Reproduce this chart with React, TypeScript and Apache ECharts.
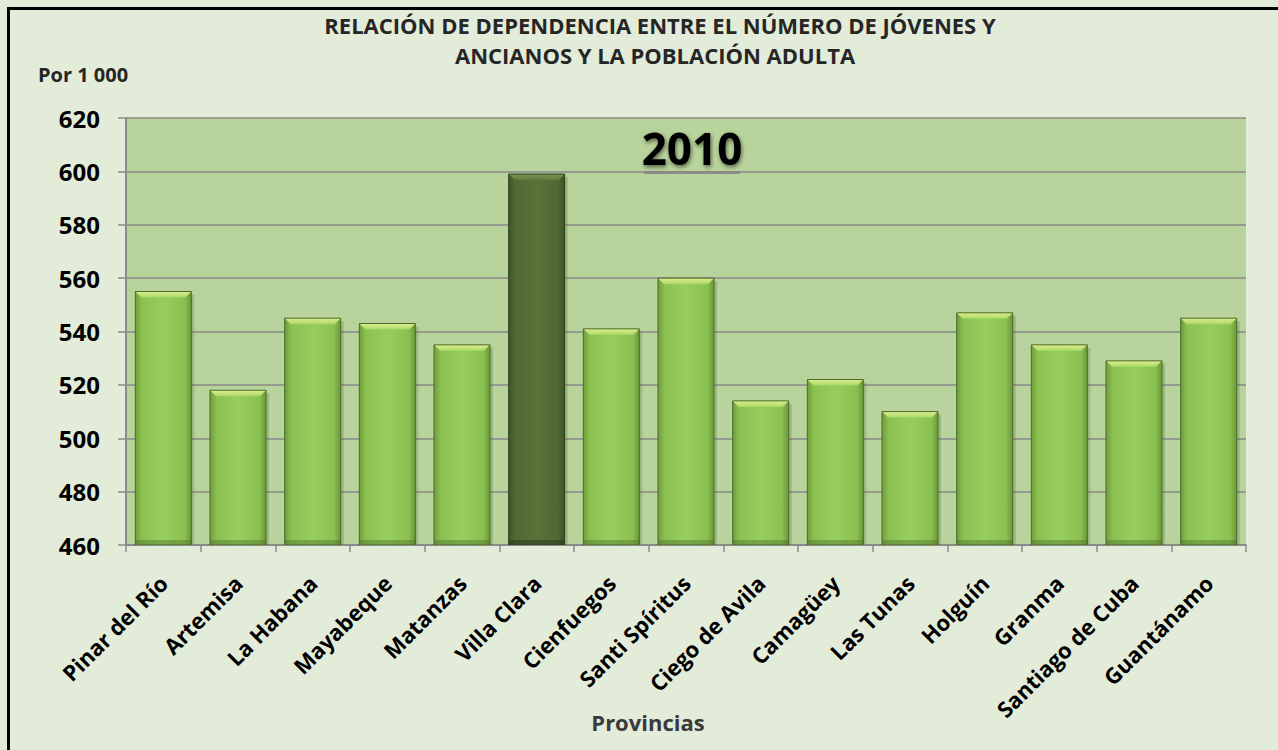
import React, { useEffect, useRef } from "react";
import * as echarts from "echarts";

const categories = [
  "Pinar del Río", "Artemisa", "La Habana", "Mayabeque", "Matanzas", "Villa Clara",
  "Cienfuegos", "Santi Spíritus", "Ciego de Avila", "Camagüey", "Las Tunas",
  "Holguín", "Granma", "Santiago de Cuba", "Guantánamo",
];
const values = [555, 518, 545, 543, 535, 599, 541, 560, 514, 522, 510, 547, 535, 529, 545];
const highlighted = "Villa Clara";
const titleLines = [
  "RELACIÓN DE DEPENDENCIA ENTRE EL NÚMERO DE JÓVENES Y",
  "ANCIANOS Y LA POBLACIÓN ADULTA",
];
const yUnit = "Por 1 000";
const xName = "Provincias";
const yearLabel = "2010";
const yMin = 460;
const yMax = 620;
const yStep = 20;

const FONT = "'Open Sans', 'Noto Sans', sans-serif";

export default function App() {
  const ref = useRef<HTMLDivElement>(null);
  useEffect(() => {
    if (!ref.current) return;
    const chart = echarts.init(ref.current, null, { renderer: "svg" });
    const G = echarts.graphic;
    const grad = (dark: boolean) =>
      new G.LinearGradient(0, 0, 1, 0, dark
        ? [
            { offset: 0, color: "#3E5426" },
            { offset: 0.12, color: "#506934" },
            { offset: 0.5, color: "#587238" },
            { offset: 0.88, color: "#506934" },
            { offset: 1, color: "#3C5124" },
          ]
        : [
            { offset: 0, color: "#6E9E3A" },
            { offset: 0.12, color: "#8BC152" },
            { offset: 0.5, color: "#97CE5E" },
            { offset: 0.88, color: "#8BC152" },
            { offset: 1, color: "#6A9837" },
          ]);
    const renderItem = (params: any, api: any) => {
      const idx = api.value(0);
      const v = api.value(1);
      const top = api.coord([idx, v]);
      const bot = api.coord([idx, yMin]);
      const bw = api.size([1, 0])[0] * 0.75;
      const x0 = top[0] - bw / 2;
      const x1 = x0 + bw;
      const y0 = top[1];
      const y1 = bot[1];
      const dark = categories[idx] === highlighted;
      const bev = 6;
      return {
        type: "group",
        children: [
          {
            type: "rect",
            shape: { x: x0 + 3, y: y0 + 3, width: bw, height: y1 - y0 - 3 },
            style: { fill: "rgba(70,95,45,0.25)" },
          },
          {
            type: "rect",
            shape: { x: x0, y: y0, width: bw, height: y1 - y0 },
            style: { fill: grad(dark) },
          },
          {
            type: "polygon",
            shape: {
              points: [
                [x0, y0], [x1, y0], [x1 - bev, y0 + bev], [x0 + bev, y0 + bev],
              ],
            },
            style: {
              fill: new G.LinearGradient(0, 0, 0, 1, dark
                ? [
                    { offset: 0, color: "#7E9456" },
                    { offset: 1, color: "#5F7A3E" },
                  ]
                : [
                    { offset: 0, color: "#E2EE8A" },
                    { offset: 1, color: "#A8D868" },
                  ]),
            },
          },
          {
            type: "rect",
            shape: { x: x0, y: y1 - 5, width: bw, height: 5 },
            style: { fill: dark ? "rgba(40,55,25,0.5)" : "rgba(80,115,45,0.45)" },
          },
          {
            type: "rect",
            shape: { x: x0, y: y0, width: bw, height: y1 - y0 },
            style: { fill: "none", stroke: dark ? "#2F401C" : "#4A6A2A", lineWidth: 1 },
          },
        ],
      };
    };
    const titleStyle = {
      fontFamily: FONT,
      fontWeight: "bold",
      fontSize: 22,
      fill: "#262626",
      align: "center",
      verticalAlign: "middle",
    };
    chart.setOption({
      animation: false,
      backgroundColor: "#E3ECD9",
      grid: {
        left: 126,
        right: 32,
        top: 118,
        bottom: 205,
        show: true,
        backgroundColor: "#B8D49C",
        borderWidth: 0,
      },
      xAxis: {
        type: "category",
        data: categories,
        boundaryGap: true,
        axisLine: { show: true, lineStyle: { color: "#8A8A8A", width: 2 } },
        axisTick: { show: true, length: 7, lineStyle: { color: "#8A8A8A", width: 1.5 } },
        axisLabel: {
          rotate: 45,
          interval: 0,
          color: "#000",
          fontFamily: FONT,
          fontWeight: "bold",
          fontSize: 22,
          margin: 34,
        },
      },
      yAxis: {
        type: "value",
        min: yMin,
        max: yMax,
        interval: yStep,
        axisLine: { show: true, lineStyle: { color: "#8A8A8A", width: 2 } },
        axisTick: { show: true, length: 8, lineStyle: { color: "#8A8A8A", width: 1.5 } },
        splitLine: { show: true, lineStyle: { color: "#8A8A8A", width: 1.5 } },
        axisLabel: {
          color: "#000",
          fontFamily: FONT,
          fontWeight: "bold",
          fontSize: 24,
          margin: 26,
        },
      },
      series: [
        {
          type: "custom",
          renderItem,
          encode: { x: 0, y: 1 },
          data: values.map((v, i) => [i, v]),
          clip: true,
        },
      ],
      graphic: [
        {
          type: "rect",
          left: 6,
          top: 6,
          shape: { width: 1300, height: 800 },
          style: { fill: "none", stroke: "#000", lineWidth: 3 },
          silent: true,
        },
        {
          type: "text",
          x: 660,
          y: 25,
          style: { ...titleStyle, text: titleLines[0] },
        },
        {
          type: "text",
          x: 655,
          y: 55,
          style: { ...titleStyle, text: titleLines[1] },
        },
        {
          type: "text",
          x: 38,
          y: 74,
          style: {
            text: yUnit,
            fontFamily: FONT,
            fontWeight: "bold",
            fontSize: 20,
            fill: "#262626",
            align: "left",
            verticalAlign: "middle",
          },
        },
        {
          type: "text",
          x: 648,
          y: 722,
          style: {
            text: xName,
            fontFamily: FONT,
            fontWeight: "bold",
            fontSize: 22,
            fill: "#3A3A3A",
            align: "center",
            verticalAlign: "middle",
          },
        },
        {
          type: "rect",
          x: 644,
          y: 171,
          shape: { width: 96, height: 3 },
          style: { fill: "#8C8C8C" },
        },
        {
          type: "text",
          x: 692,
          y: 148,
          style: {
            text: yearLabel,
            fontFamily: FONT,
            fontWeight: "bold",
            fontSize: 44,
            fill: "#000",
            align: "center",
            verticalAlign: "middle",
            textShadowColor: "rgba(0,0,0,0.55)",
            textShadowBlur: 4,
            textShadowOffsetX: 1,
            textShadowOffsetY: 2,
          },
        },
      ],
    });
    return () => chart.dispose();
  }, []);
  return (
    <div
      ref={ref}
      style={{ position: "fixed", left: 0, top: 0, width: 1278, height: 750 }}
    />
  );
}
